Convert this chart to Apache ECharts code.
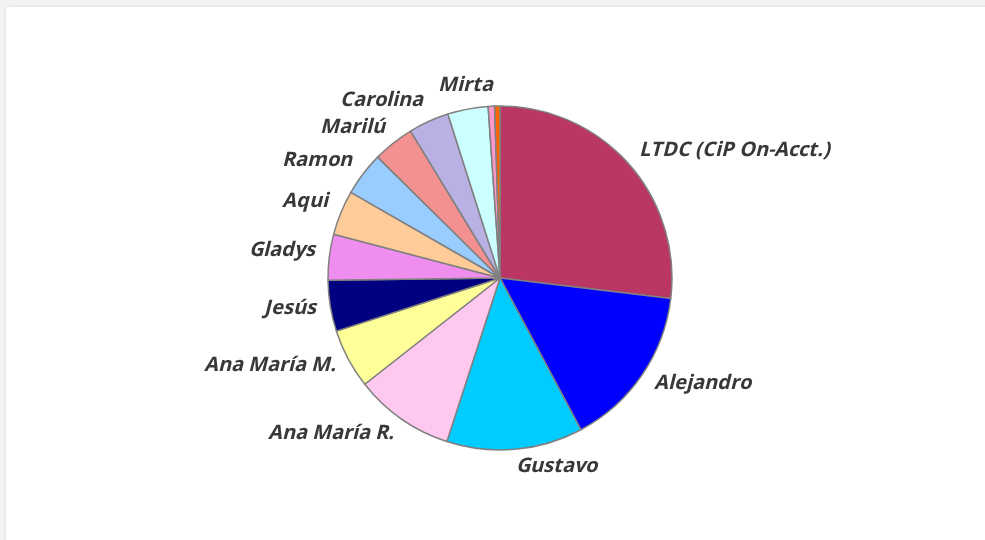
<!DOCTYPE html>
<html>
<head>
<meta charset="utf-8">
<script src="https://cdn.jsdelivr.net/npm/echarts@6/dist/echarts.min.js"></script>
<style>
  @font-face {
    font-family: 'OSUpright';
    src: local('Open Sans Bold'), local('OpenSans-Bold');
    font-style: normal;
    font-weight: 700;
  }
  html, body { margin: 0; padding: 0; width: 985px; height: 540px; overflow: hidden; background: #f3f3f3; }
  #card { position: absolute; left: 6px; top: 7px; width: 1000px; height: 560px; background: #ffffff; box-shadow: 0 0 4px rgba(0,0,0,0.12); }
  #chart { position: absolute; left: 0; top: 0; width: 985px; height: 540px; }
</style>
</head>
<body>
<div id="card"></div>
<div id="chart"></div>
<script>
const categories = ["LTDC (CiP On-Acct.)", "Alejandro", "Gustavo", "Ana María R.", "Ana María M.", "Jesús", "Gladys", "Aqui", "Ramon", "Marilú", "Carolina", "Mirta", "Otros 1", "Otros 2"];
const values = [26.9, 15.3, 12.8, 9.4, 5.6, 4.8, 4.3, 4.2, 4.1, 3.9, 3.8, 3.8, 0.6, 0.5];
const colors = ["#B93665", "#0000FF", "#00CCFF", "#FFC8EF", "#FFFF99", "#000080", "#F08EF0", "#FFCC99", "#99CCFF", "#F39191", "#B9B0E3", "#CCFFFF", "#FF99CC", "#FF6600"];
const hiddenLabels = ["Otros 1", "Otros 2"];
const centeredLabels = ["Mirta"];

// small vertical nudges of labels (px)
const labelNudge = { "LTDC (CiP On-Acct.)": -4, "Gladys": -5, "Aqui": -6, "Ramon": -5, "Marilú": -5, "Carolina": -8, "Mirta": -10, "Ana María R.": 3, "Gustavo": 3 };

function render() {
  const chart = echarts.init(document.getElementById('chart'), null, { renderer: 'canvas' });
  const data = categories.map((c, i) => {
    const item = { name: c, value: values[i], itemStyle: { color: colors[i] } };
    if (hiddenLabels.includes(c)) item.label = { show: false };
    return item;
  });
  chart.setOption({
    animation: false,
    backgroundColor: 'transparent',
    series: [{
      type: 'pie',
      center: [500, 278],
      radius: 172,
      startAngle: 90,
      clockwise: true,
      avoidLabelOverlap: false,
      data: data,
      itemStyle: { borderColor: '#808080', borderWidth: 1.5 },
      label: {
        show: true,
        position: 'outside',
        formatter: '{b}',
        color: '#383838',
        fontFamily: "OSUpright, 'Open Sans'",
        fontSize: 20,
        fontWeight: 700,
        fontStyle: 'italic',
        distanceToLabelLine: 0
      },
      labelLine: { show: false, length: 14, length2: 0 },
      labelLayout: function (params) {
        const name = categories[params.dataIndex];
        const opt = {};
        if (centeredLabels.includes(name)) opt.align = 'center';
        if (labelNudge[name]) opt.dy = labelNudge[name];
        return opt;
      },
      emphasis: { disabled: true }
    }]
  });
}

let done = false;
function go() { if (!done) { done = true; render(); } }
if (document.fonts && document.fonts.load) {
  document.fonts.load("italic 700 20px OSUpright").then(go, go);
  setTimeout(go, 1500);
} else {
  go();
}
</script>
</body>
</html>
